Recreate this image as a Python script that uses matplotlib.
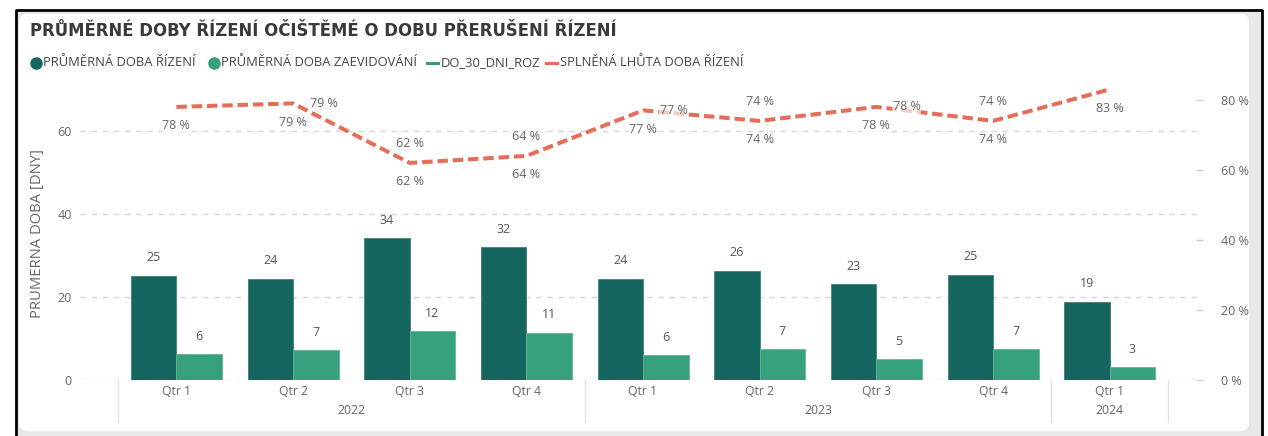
import matplotlib
matplotlib.use("Agg")
import matplotlib.pyplot as plt
import matplotlib.patches as mpatches
import matplotlib.transforms as mtransforms
from matplotlib.lines import Line2D
import numpy as np

# data
quarters = ["Qtr 1", "Qtr 2", "Qtr 3", "Qtr 4", "Qtr 1", "Qtr 2", "Qtr 3", "Qtr 4", "Qtr 1"]
years = ["2022", "2023", "2024"]
year_counts = [4, 4, 1]
doba_rizeni = [25.1, 24.4, 34.2, 32.0, 24.4, 26.4, 23.1, 25.4, 18.8]
doba_zaevidovani = [6.2, 7.2, 11.7, 11.4, 6.0, 7.4, 5.0, 7.4, 3.1]
do_30_dni_roz = [0.78, 0.79, 0.62, 0.64, 0.77, 0.74, 0.78, 0.74, 0.83]
splnena_lhuta = [0.78, 0.79, 0.62, 0.64, 0.77, 0.74, 0.78, 0.74, 0.83]

title = "PRŮMĚRNÉ DOBY ŘÍZENÍ OČIŠTĚMÉ O DOBU PŘERUŠENÍ ŘÍZENÍ"
legend_names = ["PRŮMĚRNÁ DOBA ŘÍZENÍ", "PRŮMĚRNÁ DOBA ZAEVIDOVÁNÍ", "DO_30_DNI_ROZ", "SPLNĚNÁ LHŮTA DOBA ŘÍZENÍ"]

c_dark = "#14665e"
c_light = "#37a07c"
c_green = "#2f9e74"
c_red = "#e56e5a"
c_text = "#666666"
c_grid = "#d6d6d6"

plt.rcParams['font.family'] = ['Open Sans', 'DejaVu Sans']

W, H = 1268, 436
fig = plt.figure(figsize=(W / 100, H / 100), dpi=100)


def fx(x):
    return x / W


def fy(y):
    return 1 - y / H


# card background / frame
ident = mtransforms.IdentityTransform()
fig.add_artist(mpatches.Rectangle((18, 0), 1244, H - 11, transform=ident,
                                  facecolor="#e9e9e9", edgecolor="none", zorder=0))
fig.add_artist(mpatches.FancyBboxPatch((18, H - 432), 1232, 419, transform=ident,
                                       boxstyle="round,pad=0,rounding_size=10",
                                       facecolor="white", edgecolor="#e4e4e4", lw=1, zorder=0.5))
fig.add_artist(Line2D([fx(16), fx(16), fx(1262), fx(1262)], [0, fy(10), fy(10), 0],
                      color="black", lw=2, zorder=1))

fig.text(fx(30), fy(31), title, fontsize=11.9, fontweight="bold", color="#3a3a3a",
         family="DejaVu Sans", va="center", ha="left")

# legend (hand placed like the Power BI one)
ly = fy(63)
lfs = 9.4
fig.add_artist(Line2D([fx(36)], [ly], marker="o", ms=8, color=c_dark, lw=0))
fig.text(fx(43), ly, legend_names[0], fontsize=lfs, color="#444444", va="center")
fig.add_artist(Line2D([fx(214)], [ly], marker="o", ms=8, color=c_light, lw=0))
fig.text(fx(221), ly, legend_names[1], fontsize=lfs, color="#444444", va="center")
fig.add_artist(Line2D([fx(427), fx(438)], [ly, ly], color=c_green, lw=2.2))
fig.text(fx(441), ly, legend_names[2], fontsize=lfs, color="#444444", va="center")
fig.add_artist(Line2D([fx(546), fx(557)], [ly, ly], color=c_red, lw=2.2))
fig.text(fx(560), ly, legend_names[3], fontsize=lfs, color="#444444", va="center")

# main axes
ax = fig.add_axes([fx(80), 1 - 380 / H, (1203 - 80) / W, (380 - 88) / H])
ax.set_zorder(2)
ax.patch.set_visible(False)
idx = np.arange(len(quarters))
w = 0.39
b1 = ax.bar(idx - w / 2, doba_rizeni, w, color=c_dark, edgecolor="#3f8179", lw=0.6, zorder=3)
b2 = ax.bar(idx + w / 2, doba_zaevidovani, w, color=c_light, edgecolor="#62b596", lw=0.6, zorder=3)
for bars, vals in ((b1, doba_rizeni), (b2, doba_zaevidovani)):
    for r, v in zip(bars, vals):
        ax.annotate(f"{v:.0f}", (r.get_x() + r.get_width() / 2, v), xytext=(0, 13),
                    textcoords="offset points", ha="center", va="center",
                    fontsize=9, color="#555555")

ax.set_xlim(-0.826, 8.8)
ax.set_ylim(0, 70.4)
ax.set_yticks([0, 20, 40, 60])
ax.tick_params(axis="y", length=0, pad=6, labelsize=9, labelcolor=c_text)
ax.set_xticks([])
ax.grid(axis="y", color=c_grid, ls=(0, (4, 4)), lw=1)
ax.set_axisbelow(True)
for s in ax.spines.values():
    s.set_visible(False)
ax.set_ylabel("PRUMERNA DOBA [DNY]", fontsize=10.6, color=c_text, labelpad=9)

# hierarchical category axis
bt = mtransforms.blended_transform_factory(ax.transData, ax.transAxes)
for i, q in enumerate(quarters):
    ax.text(i, -0.041, q, transform=bt, ha="center", va="center", fontsize=8.8, color=c_text)
start = -0.5
seps = [start]
for yr, n in zip(years, year_counts):
    ax.text(start + n / 2, -0.104, yr, transform=bt, ha="center", va="center",
            fontsize=8.8, color=c_text)
    start += n
    seps.append(start)
for s in seps:
    ax.plot([s, s], [0, -0.145], transform=bt, color="#e2e2e2", lw=1, clip_on=False)

# percent axis with lines
ax2 = ax.twinx()
ax2.set_zorder(3)
ax2.plot(idx, do_30_dni_roz, color=c_green, lw=0)
ax2.plot(idx, splnena_lhuta, color=c_red, lw=2.9, ls=(0, (2.6, 1.2)), solid_capstyle="butt")
ax2.set_ylim(0, 0.834)
ax2.set_yticks([0, 0.2, 0.4, 0.6, 0.8])
ax2.set_yticklabels([f"{t} %" for t in (0, 20, 40, 60, 80)])
ax2.tick_params(axis="y", direction="in", length=5, width=1, color="#cccccc",
                pad=13, labelsize=9, labelcolor=c_text)
for s in ax2.spines.values():
    s.set_visible(False)

offsets = {"above": (0, 14), "below": (0, -13.5), "right": (22, 0)}
pos_do30 = [None, "right", "above", "above", "right", "above", "right", "above", None]
pos_lhuta = ["below"] * 9
for vals, poss in ((do_30_dni_roz, pos_do30), (splnena_lhuta, pos_lhuta)):
    for i, (v, p) in enumerate(zip(vals, poss)):
        if p is None:
            continue
        ax2.annotate(f"{v * 100:.0f} %", (i, v), xytext=offsets[p], textcoords="offset points",
                     ha="center", va="center", fontsize=9, color=c_text,
                     bbox=dict(boxstyle="square,pad=0.05", fc="white", ec="none", alpha=0.65))

fig.savefig("out.png", dpi=100)
